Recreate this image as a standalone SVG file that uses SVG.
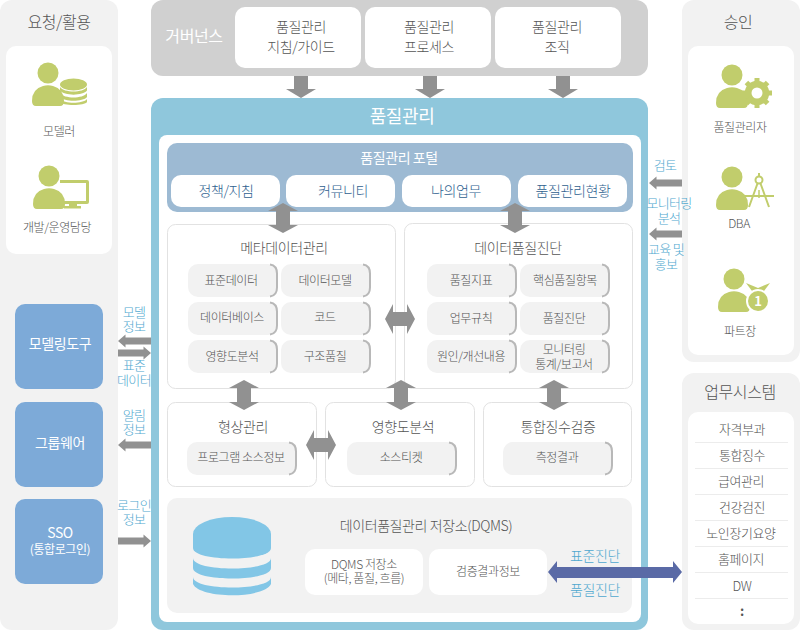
<svg xmlns="http://www.w3.org/2000/svg" width="800" height="630" viewBox="0 0 800 630">
<style>
text{font-family:"Noto Sans CJK KR","Noto Sans",sans-serif;font-weight:300;text-anchor:middle;fill:#555;letter-spacing:-.4px}
.s12{font-size:12px}.s13{font-size:13px}.s14{font-size:14px}.s16{font-size:16px}
.w{fill:#fff;font-weight:400}.b{fill:#4fa8cf;font-size:13px;letter-spacing:-.7px}.n{fill:#2f5f8f;font-size:14px}
.g{fill:#f2f2f2}.wb{fill:#fff}
.box{fill:#fff;stroke:#e2e2e2}
.sub{fill:#f2f2f2}.subr{fill:none;stroke:#b8b8b8;stroke-width:2}
.ic{fill:#c1cd6c}
.ar{fill:#919191}
</style>
<defs>
<g id="sb90"><rect class="sub" width="90" height="33" rx="10"/><path class="subr" d="M82 .5q7 1 7 9v14q0 8-7 9"/></g>
<g id="sb110"><rect class="sub" width="110" height="33" rx="10"/><path class="subr" d="M102 .5q7 1 7 9v14q0 8-7 9"/></g>
<path id="dn" d="M-7 0H7V13H15L0 22-15 13H-7Z"/>
<path id="dv" d="M0-15 15-7H7V7H15L0 15-15 7H-7V-7H-15Z"/>
<path id="dh" d="M-15 0-7-15V-7H7V-15L15 0 7 15V7H-7V15Z"/>
<path id="al" d="M16.500-3.500H-9V-6.500L-16.500 0-9 6.500V3.500H16.500Z"/>
<g id="person"><circle cx="0" cy="0" r="10.500"/><path d="M-12 33Q-16 33-16 28-16 16-5 13Q0 11.500 5 13Q16 16 16 28 16 33 12 33Z"/></g>
</defs>

<g id="request"><rect class="g" x="0" y="0" width="118" height="630" rx="12"/><rect class="wb" x="6" y="46" width="106" height="208" rx="10"/><text class="s16" x="59" y="28">요청/활용</text></g>
<g id="modeler"><use href="#person" class="ic" x="48" y="73"/><g class="ic"><ellipse cx="73.500" cy="84.500" rx="13.500" ry="6"/><path d="M60 87C64 93 83 93 87 87V90.500C83 96 64 96 60 90.500Z"/><path d="M60 93C64 99 83 99 87 93V97C83 102 64 102 60 97Z"/><path d="M60 99C64 104 83 104 87 99V102C85 106 62 106 60 102Z"/></g><text class="s12" x="59" y="136">모델러</text></g>
<g id="dev"><use href="#person" class="ic" x="49" y="176"/><path class="ic" d="M60 180H87Q89 180 89 182V202Q89 204 87 204H77V206H81V208.500H64V206H69V204H60V201H86V183H60Z"/><text class="s12" x="57" y="232">개발/운영담당</text></g>

<g id="governance"><rect x="151" y="0" width="497" height="76" rx="12" fill="#d0d0d0"/><text class="s16 w" x="194" y="42">거버넌스</text></g>
<g id="gov1"><rect class="wb" x="235" y="7" width="126" height="61" rx="10"/><text class="s14" x="301" text-anchor="middle"><tspan x="301" y="32">품질관리</tspan><tspan x="301" y="52">지침/가이드</tspan></text></g>
<g id="gov2"><rect class="wb" x="365" y="7" width="126" height="61" rx="10"/><text class="s14"><tspan x="429" y="32">품질관리</tspan><tspan x="429" y="52">프로세스</tspan></text></g>
<g id="gov3"><rect class="wb" x="495" y="7" width="126" height="61" rx="10"/><text class="s14"><tspan x="557" y="32">품질관리</tspan><tspan x="557" y="52">조직</tspan></text></g>

<g id="quality"><rect x="151" y="98" width="497" height="532" rx="12" fill="#8fc7dc"/><rect class="wb" x="159" y="135" width="482" height="487" rx="8"/><text x="402" y="123" style="font-size:18px" class="w">품질관리</text></g>

<g id="portal"><rect x="167" y="143" width="466" height="69" rx="10" fill="#9dbad3"/><text class="s14 w" x="399" y="163">품질관리 포털</text>
<rect class="wb" x="171" y="175" width="109" height="32" rx="10"/><text class="n" x="226" y="196">정책/지침</text>
<rect class="wb" x="286" y="175" width="109" height="32" rx="10"/><text class="n" x="343" y="196">커뮤니티</text>
<rect class="wb" x="402" y="175" width="109" height="32" rx="10"/><text class="n" x="456" y="196">나의업무</text>
<rect class="wb" x="518" y="175" width="109" height="32" rx="10"/><text class="n" x="573" y="196">품질관리현황</text></g>

<g id="meta"><rect class="box" x="167.500" y="224.500" width="228" height="164" rx="8"/><text class="s14" x="284" y="253">메타데이터관리</text>
<use href="#sb90" x="188" y="264"/><text class="s12" x="231" y="285">표준데이터</text>
<use href="#sb90" x="281" y="264"/><text class="s12" x="325" y="285">데이터모델</text>
<use href="#sb90" x="188" y="302"/><text class="s12" x="232" y="322">데이터베이스</text>
<use href="#sb90" x="281" y="302"/><text class="s12" x="325" y="322">코드</text>
<use href="#sb90" x="188" y="340"/><text class="s12" x="232" y="361">영향도분석</text>
<use href="#sb90" x="281" y="340"/><text class="s12" x="325" y="361">구조품질</text></g>

<g id="dq"><rect class="box" x="404.500" y="223.500" width="228" height="165" rx="8"/><text class="s14" x="518" y="253">데이터품질진단</text>
<use href="#sb90" x="427" y="264"/><text class="s12" x="471" y="285">품질지표</text>
<use href="#sb90" x="520" y="264"/><text class="s12" x="565" y="285">핵심품질항목</text>
<use href="#sb90" x="427" y="302"/><text class="s12" x="471" y="323">업무규칙</text>
<use href="#sb90" x="520" y="302"/><text class="s12" x="564" y="323">품질진단</text>
<use href="#sb90" x="427" y="340"/><text class="s12" x="471" y="361">원인/개선내용</text>
<use href="#sb90" x="520" y="340"/><text class="s12"><tspan x="564" y="354">모니터링</tspan><tspan x="564" y="369">통계/보고서</tspan></text></g>

<g id="config"><rect class="box" x="167.500" y="402.500" width="149" height="84" rx="8"/><text class="s14" x="243" y="432">형상관리</text><use href="#sb110" x="187" y="442"/><text class="s12" x="241" y="462">프로그램 소스정보</text></g>
<g id="impact"><rect class="box" x="325.500" y="402.500" width="149" height="84" rx="8"/><text class="s14" x="403" y="432">영향도분석</text><use href="#sb110" x="347" y="442"/><text class="s12" x="401" y="462">소스티켓</text></g>
<g id="verify"><rect class="box" x="483.500" y="402.500" width="148" height="84" rx="8"/><text class="s14" x="558" y="432">통합징수검증</text><use href="#sb110" x="503" y="442"/><text class="s12" x="557" y="462">측정결과</text></g>

<g id="dqms"><rect class="g" x="167" y="498" width="465" height="115" rx="10"/><text class="s14" x="426" y="531">데이터품질관리 저장소(DQMS)</text>
<g fill="#82c6e6"><path d="M193 534A39 17 0 0 1 271 534V548C271 562 193 562 193 548Z"/><path d="M193 558C193 572 271 572 271 558V568C271 582 193 582 193 568Z"/><path d="M193 577C193 591 271 591 271 577V584C264 599 200 599 193 584Z"/></g>
<rect class="wb" x="305" y="549" width="118" height="46" rx="10"/><text class="s12"><tspan x="364" y="569">DQMS 저장소</tspan><tspan x="364" y="583">(메타, 품질, 흐름)</tspan></text>
<rect class="wb" x="429" y="549" width="118" height="46" rx="10"/><text class="s12" x="488" y="576">검증결과정보</text></g>

<g id="modeling"><rect x="15" y="304" width="88" height="85" rx="10" fill="#7daad8"/><text class="s14 w" x="60" y="349">모델링도구</text></g>
<g id="groupware"><rect x="15" y="402" width="88" height="85" rx="10" fill="#7daad8"/><text class="s14 w" x="60" y="448">그룹웨어</text></g>
<g id="sso"><rect x="15" y="499" width="88" height="85" rx="10" fill="#7daad8"/><text class="s14 w" x="60" y="538">SSO</text><text class="s12 w" x="60" y="554">(통합로그인)</text></g>

<g id="approval"><rect class="g" x="682" y="0" width="118" height="362" rx="12"/><rect class="wb" x="688" y="46" width="106" height="309" rx="10"/><text class="s16" x="738" y="28">승인</text></g>
<g id="qmanager"><use href="#person" class="ic" x="732" y="75"/><g transform="translate(757 93)"><circle r="9" fill="none" stroke="#c1cd6c" stroke-width="6.500"/><g class="ic"><rect x="-2.500" y="-15" width="5" height="30"/><rect x="-2.500" y="-15" width="5" height="30" transform="rotate(45)"/><rect x="-2.500" y="-15" width="5" height="30" transform="rotate(90)"/><rect x="-2.500" y="-15" width="5" height="30" transform="rotate(135)"/></g><circle r="5.500" fill="#fff"/></g><text class="s12" x="740" y="132">품질관리자</text></g>
<g id="dba"><use href="#person" class="ic" x="732" y="177"/><g fill="none" stroke="#c1cd6c" stroke-width="2"><circle cx="759" cy="180" r="3.500"/><path d="M757.500 183.500 749 207M760.500 183.500 769 207M745 196H774M759 173V176.500"/><path d="M759 190V198" stroke-width="1.500"/></g><text class="s12" x="739" y="228">DBA</text></g>
<g id="part"><use href="#person" class="ic" x="734" y="279"/><path class="ic" d="M746 283 758 288 770 283 764 291H752Z"/><circle cx="758" cy="301" r="12" fill="#fff"/><circle cx="758" cy="301" r="10" class="ic"/><text x="758" y="306" style="font-size:13px;font-weight:700;fill:#fff">1</text><text class="s12" x="740" y="336">파트장</text></g>

<g id="biz"><rect class="g" x="682" y="373" width="118" height="257" rx="12"/><rect class="wb" x="688" y="412" width="106" height="212" rx="10"/><text class="s16" x="740" y="398">업무시스템</text>
<path d="M695 442.500H788M695 468.500H788M695 494.500H788M695 520.500H788M695 546.500H788M695 572.500H788M695 598.500H788" stroke="#ececec"/>
<text class="s13" x="742" y="434">자격부과</text><text class="s13" x="742" y="460">통합징수</text><text class="s13" x="741" y="486">급여관리</text><text class="s13" x="742" y="512">건강검진</text><text class="s13" x="741" y="538">노인장기요양</text><text class="s13" x="741" y="564">홈페이지</text><text class="s13" x="742" y="591">DW</text><text class="s13" x="742" y="616" style="font-weight:700">:</text></g>

<g id="connectors" class="ar">
<use href="#dn" x="301" y="76"/><use href="#dn" x="430" y="76"/><use href="#dn" x="563" y="76"/>
<use href="#dv" x="283" y="218"/><use href="#dv" x="515" y="218"/>
<use href="#dv" x="244" y="395"/><use href="#dv" x="401" y="395"/><use href="#dv" x="554" y="395"/>
<use href="#dh" x="400" y="319"/><use href="#dh" x="321" y="445"/>
<use href="#al" x="134.500" y="341"/><use href="#al" transform="translate(134.500 353) scale(-1 1)"/>
<use href="#al" x="134.500" y="445"/><use href="#al" transform="translate(134.500 541) scale(-1 1)"/>
<use href="#al" x="665.500" y="183"/><use href="#al" x="665.500" y="234"/>
<path fill="#5a6aa6" d="M548 572 557 561V567H673V561L682 572 673 583V578H557V583Z"/>
</g>
<g id="labels"><text class="b"><tspan x="134" y="317">모델</tspan><tspan x="134" y="331">정보</tspan></text><text class="b"><tspan x="134" y="370">표준</tspan><tspan x="134" y="385">데이터</tspan></text>
<text class="b"><tspan x="134" y="420">알림</tspan><tspan x="134" y="434">정보</tspan></text><text class="b"><tspan x="134" y="510">로그인</tspan><tspan x="134" y="524">정보</tspan></text>
<text class="b" x="665" y="170">검토</text><text class="b"><tspan x="669" y="208">모니터링</tspan><tspan x="669" y="223">분석</tspan></text><text class="b"><tspan x="666" y="254">교육 및</tspan><tspan x="666" y="269">홍보</tspan></text>
<text x="595" y="561" style="font-size:14px;fill:#4fa8cf">표준진단</text><text x="595" y="595" style="font-size:14px;fill:#4fa8cf">품질진단</text></g>
</svg>
